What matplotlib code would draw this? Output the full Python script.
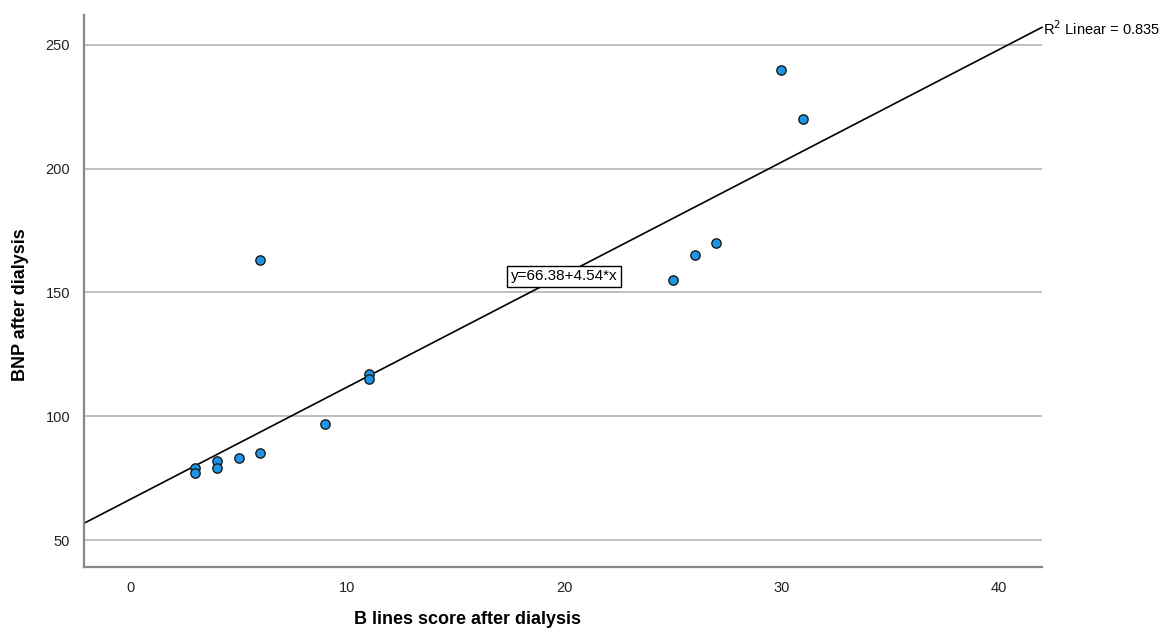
import matplotlib.pyplot as plt
import numpy as np

# B lines score vs BNP after dialysis
b_lines = [3, 3, 4, 4, 5, 6, 6, 9, 11, 11, 25, 26, 27, 30, 31]
bnp = [79, 77, 82, 79, 83, 85, 163, 97, 117, 115, 155, 165, 170, 240, 220]

intercept = 66.38
slope = 4.54
r2 = 0.835
y_ticks = [50, 100, 150, 200, 250]
x_ticks = [0, 10, 20, 30, 40]


def plot_data():
    fig = plt.figure(figsize=(11.61, 6.3), dpi=100)
    ax = fig.add_axes([0.0724, 0.1, 0.825, 0.876])

    ax.set_xlim(-2.12, 42.0)
    ax.set_ylim(39.1, 262)

    # horizontal grid lines
    for t in y_ticks:
        ax.axhline(t, color='#b4b4b4', lw=1.2, zorder=1)

    # fit line
    xs = np.array(ax.get_xlim())
    ax.plot(xs, intercept + slope * xs, color='black', lw=1.2, zorder=2, clip_on=False)

    ax.scatter(b_lines, bnp, s=45, color='#1e96e8', edgecolors='#1a1a1a',
               linewidths=1.0, zorder=3)

    ax.text(20.0, 156.5, "y=66.38+4.54*x", ha='center', va='center', fontsize=11,
            family='Liberation Sans',
            bbox=dict(boxstyle='square,pad=0.25', fc='white', ec='black', lw=1.0), zorder=4)

    ax.text(1.001, 0.975, "R$^2$ Linear = 0.835", transform=ax.transAxes,
            ha='left', va='center', fontsize=10.5, family='Liberation Sans')

    ax.set_xticks(x_ticks)
    ax.set_yticks(y_ticks)
    ax.tick_params(length=0, labelsize=10.5, pad=10, colors='#222222')
    for lab in ax.get_xticklabels() + ax.get_yticklabels():
        lab.set_family('Liberation Sans')

    for s in ['top', 'right']:
        ax.spines[s].set_visible(False)
    for s in ['left', 'bottom']:
        ax.spines[s].set_color('#888888')
        ax.spines[s].set_linewidth(1.6)

    ax.set_xlabel("B lines score after dialysis", fontsize=13, fontweight='bold',
                  family='Liberation Sans')
    ax.xaxis.set_label_coords(0.40, -0.08)
    ax.set_ylabel("BNP after dialysis", fontsize=13, fontweight='bold',
                  family='Liberation Sans')
    ax.yaxis.set_label_coords(-0.057, 0.475)

    fig.savefig("out.png", dpi=100)


if __name__ == "__main__":
    plot_data()
